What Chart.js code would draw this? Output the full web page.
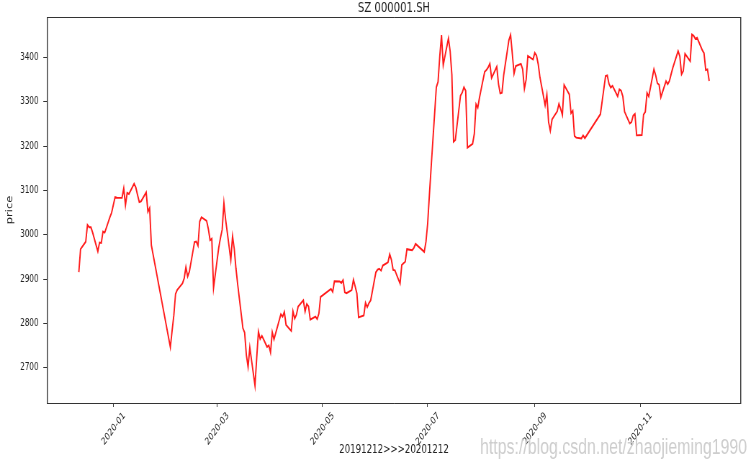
<!DOCTYPE html>
<html>
<head>
<meta charset="utf-8">
<script src="https://cdn.jsdelivr.net/npm/chart.js@4.4.0/dist/chart.umd.min.js"></script>
<style>
  html, body { margin: 0; padding: 0; background: #fff; overflow: hidden; }
  #wrap { width: 756px; height: 462px; overflow: hidden; }
  #chart { display: block; transform-origin: 0 0; }
</style>
</head>
<body>
<div id="wrap"><canvas id="chart"></canvas></div>
<script>
// SZ 000001.SH daily close, 2019-12-12 .. 2020-12-11
const dates = [
  '2019-12-12','2019-12-13','2019-12-16','2019-12-17','2019-12-18','2019-12-19','2019-12-20','2019-12-23','2019-12-24','2019-12-25','2019-12-26','2019-12-27','2019-12-30','2019-12-31',
  '2020-01-02','2020-01-03','2020-01-06','2020-01-07','2020-01-08','2020-01-09','2020-01-10','2020-01-13','2020-01-14','2020-01-15','2020-01-16','2020-01-17','2020-01-20','2020-01-21','2020-01-22','2020-01-23',
  '2020-02-03','2020-02-04','2020-02-05','2020-02-06','2020-02-07','2020-02-10','2020-02-11','2020-02-12','2020-02-13','2020-02-14','2020-02-17','2020-02-18','2020-02-19','2020-02-20','2020-02-21','2020-02-24','2020-02-25','2020-02-26','2020-02-27','2020-02-28',
  '2020-03-02','2020-03-03','2020-03-04','2020-03-05','2020-03-06','2020-03-09','2020-03-10','2020-03-11','2020-03-12','2020-03-13','2020-03-16','2020-03-17','2020-03-18','2020-03-19','2020-03-20','2020-03-23','2020-03-24','2020-03-25','2020-03-26','2020-03-27','2020-03-30','2020-03-31',
  '2020-04-01','2020-04-02','2020-04-03','2020-04-07','2020-04-08','2020-04-09','2020-04-10','2020-04-13','2020-04-14','2020-04-15','2020-04-16','2020-04-17','2020-04-20','2020-04-21','2020-04-22','2020-04-23','2020-04-24','2020-04-27','2020-04-28','2020-04-29','2020-04-30',
  '2020-05-06','2020-05-07','2020-05-08','2020-05-11','2020-05-12','2020-05-13','2020-05-14','2020-05-15','2020-05-18','2020-05-19','2020-05-20','2020-05-21','2020-05-22','2020-05-25','2020-05-26','2020-05-27','2020-05-28','2020-05-29',
  '2020-06-01','2020-06-02','2020-06-03','2020-06-04','2020-06-05','2020-06-08','2020-06-09','2020-06-10','2020-06-11','2020-06-12','2020-06-15','2020-06-16','2020-06-17','2020-06-18','2020-06-19','2020-06-22','2020-06-23','2020-06-24','2020-06-29','2020-06-30',
  '2020-07-01','2020-07-02','2020-07-03','2020-07-06','2020-07-07','2020-07-08','2020-07-09','2020-07-10','2020-07-13','2020-07-14','2020-07-15','2020-07-16','2020-07-17','2020-07-20','2020-07-21','2020-07-22','2020-07-23','2020-07-24','2020-07-27','2020-07-28','2020-07-29','2020-07-30','2020-07-31',
  '2020-08-03','2020-08-04','2020-08-05','2020-08-06','2020-08-07','2020-08-10','2020-08-11','2020-08-12','2020-08-13','2020-08-14','2020-08-17','2020-08-18','2020-08-19','2020-08-20','2020-08-21','2020-08-24','2020-08-25','2020-08-26','2020-08-27','2020-08-28','2020-08-31',
  '2020-09-01','2020-09-02','2020-09-03','2020-09-04','2020-09-07','2020-09-08','2020-09-09','2020-09-10','2020-09-11','2020-09-14','2020-09-15','2020-09-16','2020-09-17','2020-09-18','2020-09-21','2020-09-22','2020-09-23','2020-09-24','2020-09-25','2020-09-28','2020-09-29','2020-09-30',
  '2020-10-09','2020-10-12','2020-10-13','2020-10-14','2020-10-15','2020-10-16','2020-10-19','2020-10-20','2020-10-21','2020-10-22','2020-10-23','2020-10-26','2020-10-27','2020-10-28','2020-10-29','2020-10-30',
  '2020-11-02','2020-11-03','2020-11-04','2020-11-05','2020-11-06','2020-11-09','2020-11-10','2020-11-11','2020-11-12','2020-11-13','2020-11-16','2020-11-17','2020-11-18','2020-11-19','2020-11-20','2020-11-23','2020-11-24','2020-11-25','2020-11-26','2020-11-27','2020-11-30',
  '2020-12-01','2020-12-02','2020-12-03','2020-12-04','2020-12-07','2020-12-08','2020-12-09','2020-12-10','2020-12-11'
];
const closes = [
  2915.70, 2967.68, 2984.39, 3022.42, 3017.04, 3017.07, 3004.94, 2962.75, 2982.68, 2981.88, 3007.35, 3005.04, 3040.02, 3050.12,
  3085.20, 3083.79, 3083.41, 3104.80, 3066.89, 3094.88, 3092.29, 3115.57, 3106.82, 3090.04, 3074.08, 3075.50, 3095.79, 3052.14, 3060.75, 2976.53,
  2746.61, 2783.29, 2818.09, 2866.51, 2875.96, 2890.49, 2901.67, 2926.90, 2906.07, 2917.01, 2983.62, 2984.97, 2975.40, 3030.15, 3039.67, 3031.23, 3013.05, 2987.93, 2991.33, 2880.30,
  2970.93, 2992.90, 3011.67, 3071.68, 3034.51, 2943.29, 2996.76, 2968.52, 2923.49, 2887.43, 2789.25, 2779.64, 2728.76, 2702.13, 2745.62, 2660.17, 2722.44, 2781.59, 2764.91, 2772.20, 2747.21, 2750.30,
  2734.52, 2780.64, 2763.99, 2820.76, 2815.37, 2825.90, 2796.63, 2783.05, 2827.28, 2811.17, 2819.94, 2838.49, 2852.55, 2827.01, 2843.98, 2838.50, 2808.53, 2815.49, 2810.02, 2822.44, 2860.08,
  2878.14, 2871.52, 2895.34, 2894.80, 2891.56, 2898.05, 2870.34, 2868.46, 2875.42, 2898.58, 2883.74, 2867.92, 2813.77, 2817.97, 2846.55, 2836.80, 2846.22, 2852.35,
  2915.43, 2921.40, 2923.37, 2919.25, 2930.80, 2937.77, 2956.11, 2943.75, 2920.90, 2919.74, 2890.03, 2931.75, 2935.87, 2939.32, 2967.63, 2965.27, 2970.62, 2979.55, 2961.52, 2984.67,
  3025.98, 3090.57, 3152.81, 3332.88, 3345.34, 3403.44, 3450.59, 3383.32, 3443.29, 3414.62, 3361.30, 3210.10, 3214.13, 3314.15, 3320.90, 3333.16, 3325.11, 3196.77, 3205.23, 3227.96, 3294.55, 3286.82, 3310.01,
  3367.97, 3371.69, 3377.56, 3386.46, 3354.04, 3379.25, 3340.29, 3319.27, 3320.73, 3360.10, 3438.80, 3451.09, 3408.13, 3363.90, 3380.68, 3385.64, 3373.58, 3329.74, 3350.11, 3403.81, 3395.68,
  3410.61, 3404.80, 3384.98, 3355.37, 3292.59, 3316.42, 3254.63, 3234.82, 3260.35, 3278.81, 3295.68, 3283.92, 3270.44, 3338.09, 3316.94, 3274.30, 3279.71, 3223.18, 3219.42, 3217.53, 3224.36, 3218.05,
  3272.08, 3358.47, 3359.75, 3340.51, 3332.18, 3336.36, 3312.50, 3328.10, 3325.03, 3312.16, 3278.00, 3251.12, 3254.32, 3269.24, 3272.74, 3224.53,
  3225.12, 3271.07, 3277.44, 3320.13, 3312.16, 3373.73, 3360.15, 3342.20, 3338.68, 3310.10, 3346.97, 3339.90, 3347.30, 3363.09, 3377.73, 3414.49, 3402.82, 3362.33, 3369.73, 3408.31, 3391.76,
  3451.94, 3449.38, 3442.14, 3444.58, 3416.60, 3410.18, 3371.96, 3373.28, 3347.19
];
const xTickDates = ['2020-01-01', '2020-03-01', '2020-05-01', '2020-07-01', '2020-09-01', '2020-11-01'];
const yTickValues = [2700, 2800, 2900, 3000, 3100, 3200, 3300, 3400];

// the reference picture looks squeezed sideways, so draw wide and scale down
const SQUASH = 0.72;
const W = Math.round(756 / SQUASH);
const H = 462;
const FONT = "'DejaVu Sans', sans-serif";
const TEXT = '#222';

const DAY = 86400000;
const toDay = s => Date.UTC(+s.slice(0, 4), +s.slice(5, 7) - 1, +s.slice(8, 10)) / DAY;
const dayLabel = v => new Date(v * DAY).toISOString().slice(0, 7);

const points = dates.map((d, i) => ({ x: toDay(d), y: closes[i] }));

// matplotlib style 5% margins
const x0 = toDay(dates[0]), x1 = toDay(dates[dates.length - 1]);
const y0 = Math.min(...closes), y1 = Math.max(...closes);
const xPad = (x1 - x0) * 0.05, yPad = (y1 - y0) * 0.05;

const canvas = document.getElementById('chart');
canvas.width = W;
canvas.height = H;
canvas.style.transform = 'scaleX(' + SQUASH + ')';

// axes frame on all four sides
const framePlugin = {
    id: 'frame',
    afterDraw(chart) {
        const { ctx, chartArea: a } = chart;
        ctx.save();
        ctx.strokeStyle = '#333';
        ctx.lineWidth = 1;
        ctx.beginPath();
        ctx.moveTo(a.left, a.top + 0.5); ctx.lineTo(a.right, a.top + 0.5);
        ctx.moveTo(a.left, a.bottom + 0.5); ctx.lineTo(a.right, a.bottom + 0.5);
        ctx.stroke();
        ctx.lineWidth = 1 / SQUASH;
        ctx.beginPath();
        ctx.moveTo(a.left, a.top); ctx.lineTo(a.left, a.bottom + 1);
        ctx.moveTo(a.right, a.top); ctx.lineTo(a.right, a.bottom + 1);
        ctx.stroke();
        ctx.restore();
    }
};

// blog watermark in the lower right corner
const watermarkPlugin = {
    id: 'watermark',
    afterDraw(chart) {
        const ctx = chart.ctx;
        const text = 'https://blog.csdn.net/zhaojieming1990';
        ctx.save();
        ctx.font = "18px 'Liberation Sans', sans-serif";
        const size = 18 * (371 / ctx.measureText(text).width);
        ctx.font = size.toFixed(2) + "px 'Liberation Sans', sans-serif";
        ctx.fillStyle = '#cdcdcd';
        ctx.textAlign = 'left';
        ctx.textBaseline = 'middle';
        ctx.fillText(text, 480 / SQUASH, 448);
        ctx.restore();
    }
};

new Chart(canvas, {
    type: 'line',
    data: {
        datasets: [{
            label: 'close',
            data: points,
            borderColor: '#ff1a1a',
            borderWidth: 1.9,
            pointRadius: 0,
            tension: 0,
            fill: false
        }]
    },
    options: {
        responsive: false,
        animation: false,
        devicePixelRatio: 1,
        layout: { padding: { left: 0, right: W - 740.7 / SQUASH, top: 0, bottom: 0 } },
        plugins: {
            legend: { display: false },
            tooltip: { enabled: false },
            title: {
                display: true,
                text: 'SZ 000001.SH',
                fullSize: false,
                color: TEXT,
                font: { family: FONT, size: 14, weight: 'normal' },
                padding: { top: 0, bottom: 0.2 }
            }
        },
        scales: {
            x: {
                type: 'linear',
                min: x0 - xPad,
                max: x1 + xPad,
                afterBuildTicks: s => { s.ticks = xTickDates.map(d => ({ value: toDay(d) })); },
                afterFit: s => { s.height = H - 403; },
                ticks: {
                    autoSkip: false,
                    minRotation: 45,
                    maxRotation: 45,
                    labelOffset: 15,
                    padding: 3,
                    color: TEXT,
                    font: { family: FONT, size: 10 },
                    callback: v => dayLabel(v)
                },
                grid: { drawOnChartArea: false, drawTicks: true, tickLength: 4, color: '#333' },
                border: { display: false },
                title: {
                    display: true,
                    text: '20191212>>>20201212',
                    color: TEXT,
                    font: { family: FONT, size: 12 },
                    padding: { top: 0, bottom: 4.8 }
                }
            },
            y: {
                type: 'linear',
                min: y0 - yPad,
                max: y1 + yPad,
                afterBuildTicks: s => { s.ticks = yTickValues.map(v => ({ value: v })); },
                afterFit: s => { s.width = 47.3 / SQUASH; },
                ticks: {
                    padding: 6.6,
                    color: TEXT,
                    font: { family: FONT, size: 10 },
                    callback: v => String(v)
                },
                grid: { drawOnChartArea: false, drawTicks: true, tickLength: 4 / SQUASH, color: '#333' },
                border: { display: false },
                title: {
                    display: true,
                    text: 'price',
                    color: TEXT,
                    font: { family: FONT, size: 11.5 },
                    padding: { top: 7, bottom: 0 }
                }
            }
        }
    },
    plugins: [framePlugin, watermarkPlugin]
});
</script>
</body>
</html>
